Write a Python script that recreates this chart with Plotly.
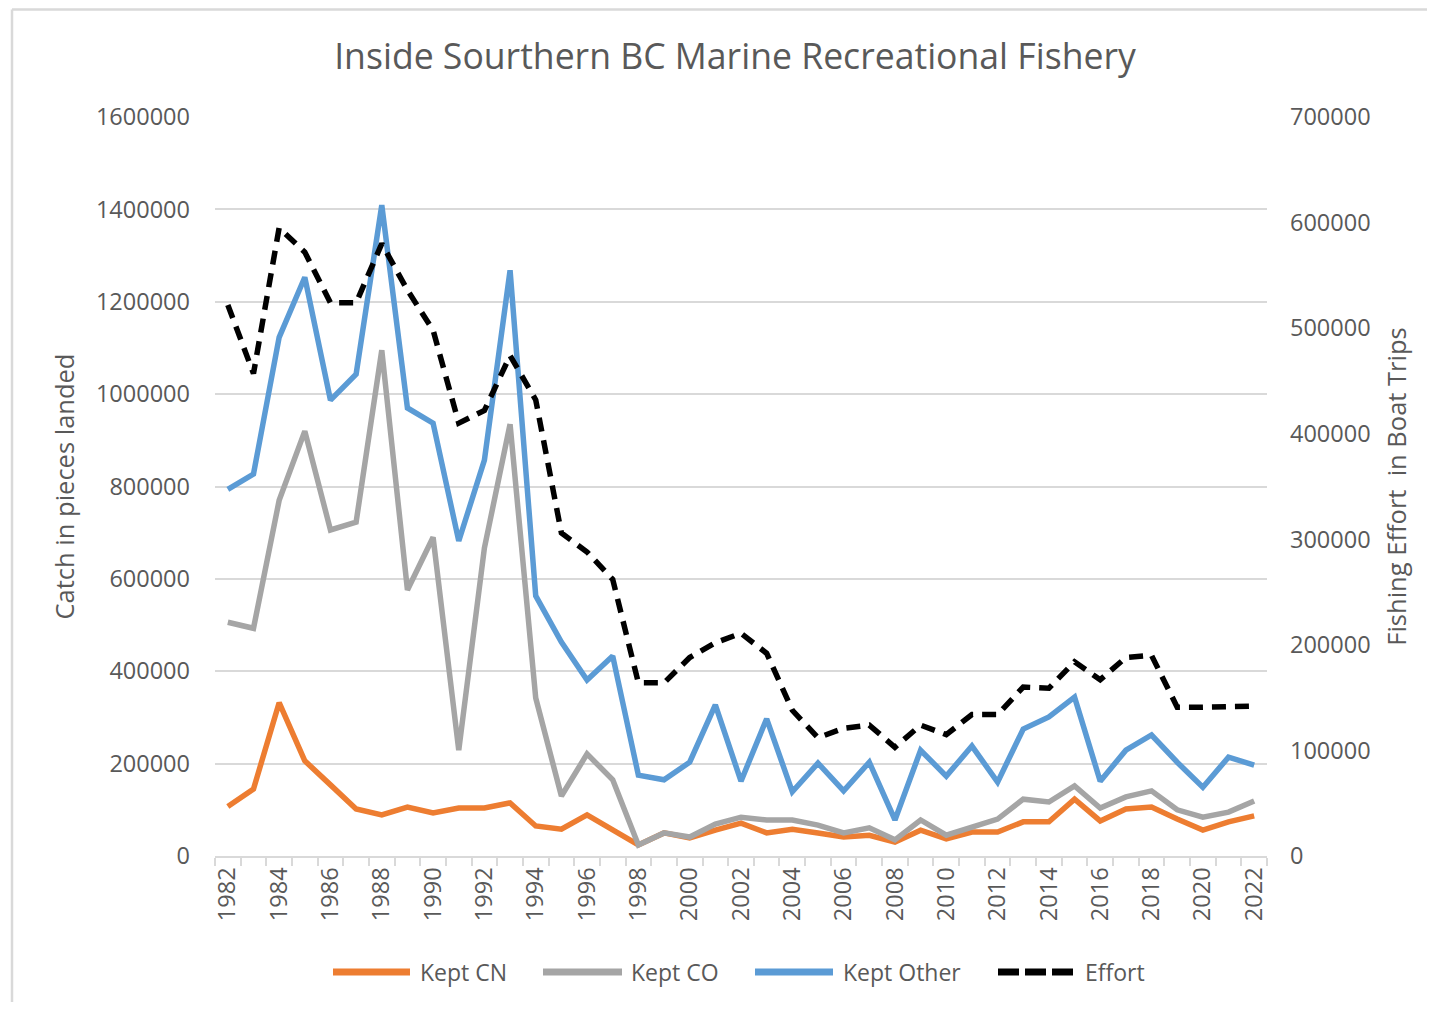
import plotly.graph_objects as go

years = list(range(1982, 2023))

kept_cn = [107000, 145000, 332000, 206000, 154000, 102000, 89000, 106000, 93000, 104000,
           104000, 115000, 65000, 58000, 89000, 58000, 24000, 50000, 39000, 56000,
           71000, 50000, 58000, 50000, 41000, 45000, 30000, 56000, 37000, 52000,
           52000, 74000, 74000, 123000, 76000, 102000, 106000, 80000, 56000, 74000, 87000]

kept_co = [506000, 493000, 770000, 920000, 706000, 723000, 1095000, 576000, 690000, 229000,
           667000, 935000, 342000, 130000, 221000, 165000, 24000, 50000, 41000, 69000,
           84000, 78000, 78000, 67000, 50000, 61000, 35000, 78000, 45000, 61000,
           80000, 123000, 117000, 152000, 104000, 128000, 141000, 100000, 84000, 95000, 119000]

kept_other = [794000, 827000, 1123000, 1253000, 987000, 1043000, 1409000, 970000, 937000, 682000,
              857000, 1268000, 563000, 463000, 381000, 433000, 175000, 165000, 203000, 327000,
              162000, 297000, 139000, 201000, 141000, 203000, 78000, 229000, 173000, 238000,
              160000, 275000, 301000, 344000, 162000, 229000, 262000, 203000, 149000, 214000, 197000]

effort = [522000, 457000, 595000, 572000, 524000, 524000, 580000, 536000, 498000, 410000,
          422000, 474000, 432000, 306000, 288000, 262000, 164000, 164000, 188000, 202000,
          211000, 192000, 138000, 112000, 121000, 124000, 103000, 124000, 115000, 134000,
          134000, 160000, 159000, 184000, 167000, 188000, 190000, 141000, 141000, 141000, 142000]

series_names = ["Kept CN", "Kept CO", "Kept Other", "Effort"]
series_colors = ["#ED7D31", "#A5A5A5", "#5B9BD5", "#000000"]

left_ticks = [0, 200000, 400000, 600000, 800000, 1000000, 1200000, 1400000, 1600000]
right_ticks = [0, 100000, 200000, 300000, 400000, 500000, 600000, 700000]
x_ticks = list(range(1982, 2023, 2))

FONT = "Open Sans"
TXT = "#595959"
GRID = "#D9D9D9"
EFFORT_DASH = "14px,9px"

W, H = 1419, 994
# plot area in page pixels (page has an 8px body margin)
PL, PR, PT, PB = 215, 1267, 117, 856
OFF = 8


def px(xp):
    return (xp - PL) / (PR - PL)


def py(yp):
    return (PB - yp) / (PB - PT)


fig = go.Figure()
for name, vals, col in zip(series_names[:3], [kept_cn, kept_co, kept_other], series_colors[:3]):
    fig.add_trace(go.Scatter(x=years, y=vals, name=name, mode="lines",
                             line=dict(color=col, width=5.5)))
fig.add_trace(go.Scatter(x=years, y=effort, name=series_names[3], mode="lines", yaxis="y2",
                         line=dict(color=series_colors[3], width=5.5, dash=EFFORT_DASH)))

fig.update_layout(
    width=W, height=H,
    margin=dict(l=PL - OFF, r=W - (PR - OFF), t=PT - OFF, b=H - (PB - OFF)),
    paper_bgcolor="white", plot_bgcolor="white",
    font=dict(family=FONT, color=TXT, size=23),
    showlegend=False,
    title=dict(text="Inside Sourthern BC Marine Recreational Fishery",
               x=(735 - OFF) / W, xanchor="center", xref="container",
               y=1 - (57 - OFF) / H, yanchor="middle", yref="container",
               font=dict(family=FONT, size=35.6, color=TXT)),
    xaxis=dict(range=[1981.5, 2022.5], tickmode="array", tickvals=x_ticks,
               ticktext=[str(v) for v in x_ticks], tickangle=-90,
               showgrid=False, zeroline=False, showline=True, linecolor=GRID, linewidth=2,
               ticks="", tickfont=dict(size=23.5, color=TXT),
               minor=dict(ticks="outside", tick0=1981.5, dtick=1, ticklen=8,
                          tickcolor=GRID, tickwidth=2, showgrid=False)),
    yaxis=dict(range=[0, 1600000], tickmode="array", tickvals=left_ticks,
               ticktext=[str(v) for v in left_ticks],
               showgrid=True, gridcolor=GRID, gridwidth=2, zeroline=False,
               showline=False, ticks="", ticklabelstandoff=24,
               tickfont=dict(size=23.5, color=TXT),
               title=dict(text="Catch in pieces landed", standoff=14,
                          font=dict(size=25.5, color=TXT))),
    yaxis2=dict(range=[0, 700000], tickmode="array", tickvals=right_ticks,
                ticktext=[str(v) for v in right_ticks],
                overlaying="y", side="right", showgrid=False, zeroline=False,
                showline=False, ticks="", ticklabelstandoff=22,
                tickfont=dict(size=23.5, color=TXT),
                title=dict(text="Fishing Effort  in Boat Trips", standoff=18,
                           font=dict(size=25.5, color=TXT))),
)

# legend drawn as chart decoration (long Excel-style keys)
leg_y = py(972)
leg_lines = [(333, 410), (543, 622), (755, 833), (998, 1075)]
leg_text_x = [418, 629, 841, 1083]
for i, name in enumerate(series_names):
    x0, x1 = leg_lines[i]
    fig.add_shape(type="line", xref="paper", yref="paper", x0=px(x0), x1=px(x1),
                  y0=leg_y, y1=leg_y,
                  line=dict(color=series_colors[i], width=7,
                            dash="21px,6px" if name == "Effort" else "solid"))
    fig.add_annotation(text=name, xref="paper", yref="paper", x=px(leg_text_x[i]), y=leg_y,
                       xanchor="left", yanchor="middle", showarrow=False,
                       font=dict(family=FONT, size=23, color=TXT))

# outer chart frame (left and top edges visible)
x_left = px(12)
y_top = py(9.5)
fig.add_shape(type="line", xref="paper", yref="paper", x0=x_left, x1=x_left,
              y0=-0.4, y1=y_top, line=dict(color=GRID, width=2.5))
fig.add_shape(type="line", xref="paper", yref="paper", x0=x_left, x1=1.4,
              y0=y_top, y1=y_top, line=dict(color=GRID, width=2.5))

fig.write_html("out.html")
